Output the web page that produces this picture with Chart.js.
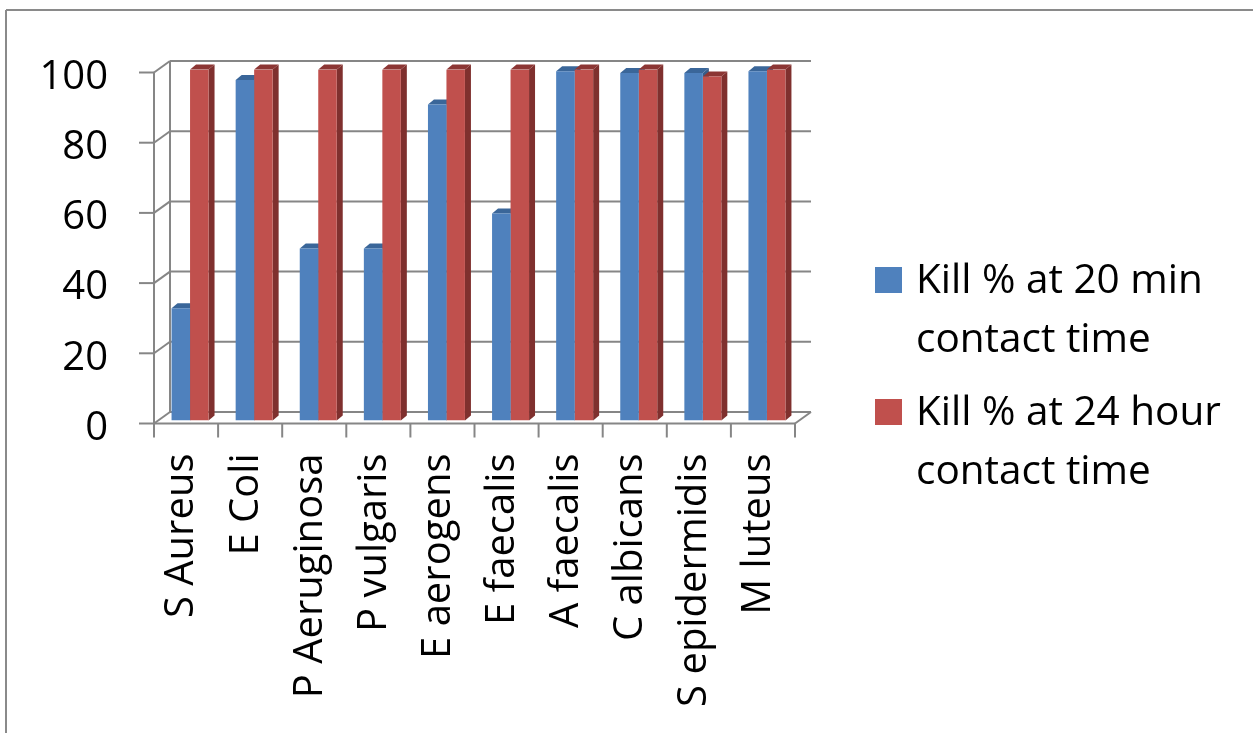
<!DOCTYPE html>
<html>
<head>
<meta charset="utf-8">
<script src="https://cdn.jsdelivr.net/npm/chart.js@4.4.1/dist/chart.umd.min.js"></script>
<style>
html, body { margin: 0; padding: 0; background: #fff; overflow: hidden; }
#wrap { width: 1253px; height: 733px; position: relative; }
</style>
</head>
<body>
<div id="wrap"><canvas id="killChart"></canvas></div>
<script>
var organisms = ['S Aureus', 'E Coli', 'P Aeruginosa', 'P vulgaris', 'E aerogens',
                 'E faecalis', 'A faecalis', 'C albicans', 'S epidermidis', 'M luteus'];
var kill20min = [32, 97, 49, 49, 90, 59, 99.5, 99, 99, 99.5];
var kill24hour = [100, 100, 100, 100, 100, 100, 100, 100, 98, 100];
var seriesNames = ['Kill % at 20 min contact time', 'Kill % at 24 hour contact time'];
var yTicks = [0, 20, 40, 60, 80, 100];

var FONT = '"Open Sans", sans-serif';
var front = { dx: -4, dy: 3 };   // front plane relative to bars
var back = { dx: 12, dy: -8.5 }; // back wall relative to bars

function line(ctx, x1, y1, x2, y2) {
    ctx.beginPath();
    ctx.moveTo(x1, y1);
    ctx.lineTo(x2, y2);
    ctx.stroke();
}
function poly(ctx, pts, color) {
    ctx.beginPath();
    ctx.moveTo(pts[0][0], pts[0][1]);
    for (var i = 1; i < pts.length; i++) ctx.lineTo(pts[i][0], pts[i][1]);
    ctx.closePath();
    ctx.fillStyle = color;
    ctx.fill();
}

// walls, floor, axes and the sides/tops of the bars
var frame3d = {
    id: 'frame3d',
    beforeDatasetsDraw: function(chart) {
        var ctx = chart.ctx, ys = chart.scales.y;
        var L = chart.chartArea.left, R = chart.chartArea.right;
        var y0 = ys.getPixelForValue(0), yTop = ys.getPixelForValue(100);
        ctx.save();
        ctx.strokeStyle = '#868686';
        ctx.lineWidth = 2;
        yTicks.forEach(function(v) {
            var y = ys.getPixelForValue(v);
            line(ctx, L + back.dx, y + back.dy, R + back.dx, y + back.dy);
            line(ctx, L + front.dx, y + front.dy, L + back.dx, y + back.dy);
            line(ctx, L + front.dx - 15, y + front.dy, L + front.dx, y + front.dy);
        });
        line(ctx, L + back.dx, yTop + back.dy, L + back.dx, y0 + back.dy);
        line(ctx, L + front.dx, yTop + front.dy, L + front.dx, y0 + front.dy);
        line(ctx, L + front.dx, y0 + front.dy, R + front.dx, y0 + front.dy);
        line(ctx, R + front.dx, y0 + front.dy, R + back.dx, y0 + back.dy);
        var n = organisms.length;
        for (var i = 0; i <= n; i++) {
            var x = L + i * (R - L) / n + front.dx;
            line(ctx, x, y0 + front.dy, x, y0 + front.dy + 14);
        }

        var sides = ['#385D8A', '#7F302E'];
        var tops = ['#3A6699', '#8C3634'];
        chart.data.datasets.forEach(function(ds, di) {
            chart.getDatasetMeta(di).data.forEach(function(el) {
                var x1 = el.x - el.width / 2, x2 = el.x + el.width / 2;
                var d = 6, h = 5;
                poly(ctx, [[x2, el.y], [x2 + d, el.y - h], [x2 + d, el.base - h], [x2, el.base]], sides[di]);
                poly(ctx, [[x1, el.y], [x1 + d, el.y - h], [x2 + d, el.y - h], [x2, el.y]], tops[di]);
            });
        });
        ctx.restore();
    }
};

function wrapText(ctx, text, maxW) {
    var words = text.split(' '), lines = [], cur = '';
    words.forEach(function(w) {
        var t = cur ? cur + ' ' + w : w;
        if (ctx.measureText(t).width > maxW && cur) { lines.push(cur); cur = w; }
        else cur = t;
    });
    lines.push(cur);
    return lines;
}

// legend with wrapped labels + outer frame
var sideLegend = {
    id: 'sideLegend',
    afterDraw: function(chart) {
        var ctx = chart.ctx;
        ctx.save();
        ctx.font = '40.5px ' + FONT;
        ctx.fillStyle = '#000';
        ctx.textBaseline = 'alphabetic';
        var baseline = 293;
        chart.data.datasets.forEach(function(ds, di) {
            var lines = wrapText(ctx, ds.label, 325);
            ctx.fillStyle = ds.backgroundColor;
            ctx.fillRect(875, baseline - 26, 27, 26);
            ctx.fillStyle = '#000';
            lines.forEach(function(l, li) {
                ctx.fillText(l, 916, baseline + li * 59);
            });
            baseline += (lines.length - 1) * 59 + 73;
        });
        ctx.strokeStyle = '#8a8a8a';
        ctx.lineWidth = 2;
        line(ctx, 6, 733, 6, 10);
        line(ctx, 6, 10, 1253, 10);
        ctx.restore();
    }
};

var ctx = document.getElementById('killChart').getContext('2d');

var chart = new Chart(ctx, {
    type: 'bar',
    data: {
        labels: organisms,
        datasets: [
            { label: seriesNames[0], data: kill20min, backgroundColor: '#4F81BD' },
            { label: seriesNames[1], data: kill24hour, backgroundColor: '#C0504D' }
        ]
    },
    options: {
        responsive: true,
        maintainAspectRatio: false,
        animation: false,
        events: [],
        categoryPercentage: 0.577,
        barPercentage: 1,
        layout: { padding: { left: 0, top: 69.5, right: 454, bottom: 0 } },
        plugins: { legend: { display: false }, tooltip: { enabled: false } },
        scales: {
            x: {
                grid: { display: false, drawTicks: false },
                border: { display: false },
                ticks: {
                    color: '#000', font: { family: FONT, size: 40 },
                    minRotation: 90, maxRotation: 90, autoSkip: false,
                    padding: 33, labelOffset: -8
                },
                afterFit: function(s) { s.height = 312.5; }
            },
            y: {
                min: 0, max: 100,
                // invisible tick length keeps the labels away from the axis
                grid: { display: false, drawTicks: true, tickLength: 40 },
                border: { display: false },
                ticks: {
                    color: '#000', font: { family: FONT, size: 40 },
                    padding: 10, labelOffset: 8
                },
                afterBuildTicks: function(s) { s.ticks = yTicks.map(function(v) { return { value: v }; }); },
                afterFit: function(s) { s.width = 158; }
            }
        }
    },
    plugins: [frame3d, sideLegend]
});
</script>
</body>
</html>
